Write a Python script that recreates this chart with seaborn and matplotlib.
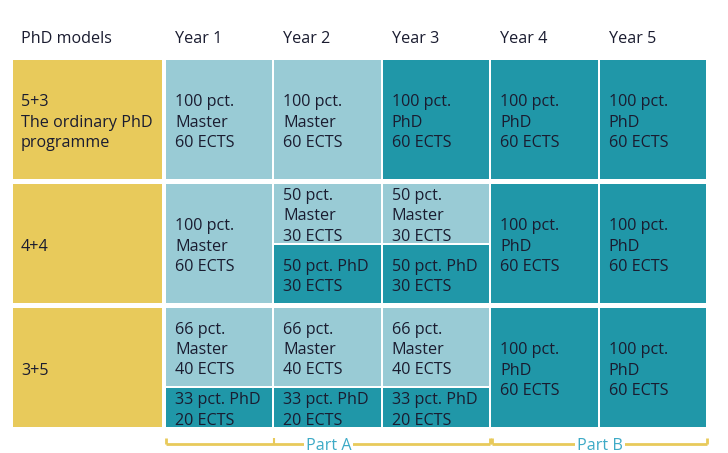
import numpy as np
import pandas as pd
import seaborn as sns
import matplotlib.pyplot as plt

sns.set_theme(style="white")
plt.rcParams['font.family'] = ['Open Sans', 'DejaVu Sans']

# data
years = ["Year 1", "Year 2", "Year 3", "Year 4", "Year 5"]
models = ["5+3\nThe ordinary PhD\nprogramme", "4+4", "3+5"]
master_pct = [[100, 100, 0, 0, 0],
              [100, 50, 50, 0, 0],
              [66, 66, 66, 0, 0]]
phd_pct = [[0, 0, 100, 100, 100],
           [0, 50, 50, 100, 100],
           [33, 33, 33, 100, 100]]
ects_per_year = 60
parts = ["Part A", "Part B"]
part_start = [0, 3]
part_end = [3, 5]

# colours
yellow = "#E8CA5B"
light = "#99CBD5"
teal = "#2097A8"
ink = "#1a1c30"
part_col = "#3DAAC6"

fig = plt.figure(figsize=(7.28, 4.53), dpi=100)
ax = fig.add_axes([0, 0, 1, 1])
ax.set_xlim(-1.531, 5.1845)
ax.set_ylim(3.169, -0.484)
ax.axis('off')

gx = 0.018      # gap between year columns
row_h = 0.96    # row height (rest is gap)
gy = 0.016      # gap between master / phd part
pad = 0.083
dy = 0.024      # nudge text down a little
fs = 11.6
ls = 1.37

# header
ax.text(-1.338, -0.194 + dy, "PhD models", ha='left', va='center', fontsize=fs, color=ink)
for i, y in enumerate(years):
    ax.text(i + pad, -0.194 + dy, y, ha='left', va='center', fontsize=fs, color=ink)

for r, model in enumerate(models):
    ax.bar(-1.411, row_h, bottom=r, width=1.374, align='edge', color=yellow, linewidth=0)
    ax.text(-1.338, r + row_h / 2 + dy, model, ha='left', va='center', fontsize=fs,
            color=ink, linespacing=ls)
    for i in range(len(years)):
        m = master_pct[r][i]
        p = phd_pct[r][i]
        tot = m + p
        avail = row_h - (gy if (m and p) else 0)
        if m:
            hm = avail * m / tot
            ax.bar(i, hm, bottom=r, width=1 - gx, align='edge', color=light, linewidth=0)
            ects = round(m * ects_per_year / 100)
            ax.text(i + pad, r + hm / 2 + dy, f"{m} pct.\nMaster\n{ects} ECTS", ha='left',
                    va='center', fontsize=fs, color=ink, linespacing=ls)
        if p:
            hp = avail * p / tot
            ax.bar(i, hp, bottom=r + row_h - hp, width=1 - gx, align='edge', color=teal,
                   linewidth=0)
            ects = round(p * ects_per_year / 100)
            if p == 100:
                lab = f"{p} pct.\nPhD\n{ects} ECTS"
            else:
                lab = f"{p} pct. PhD\n{ects} ECTS"
            ax.text(i + pad, r + row_h - hp / 2 + dy, lab, ha='left', va='center', fontsize=fs,
                    color=ink, linespacing=ls)

# part brackets
yb = 3.1
yt = 3.045
for name, a, b in zip(parts, part_start, part_end):
    a2 = a + (0.009 if a > 0 else 0)
    b2 = b - (0.009 if b < 5 else 0.01)
    ax.plot([a2, b2], [yb, yb], color=yellow, lw=2, solid_capstyle='butt')
    for t in [a2, b2]:
        ax.plot([t, t], [yt, yb], color=yellow, lw=2, solid_capstyle='butt')
    if a == 0:
        ax.plot([1, 1], [yt, yb], color=yellow, lw=1.5, solid_capstyle='butt')
    ax.text((a + b) / 2, yb + 0.01, name, ha='center', va='center', fontsize=fs, color=part_col,
            bbox=dict(facecolor='white', edgecolor='none', pad=1.5))

fig.savefig("out.png", dpi=100)
